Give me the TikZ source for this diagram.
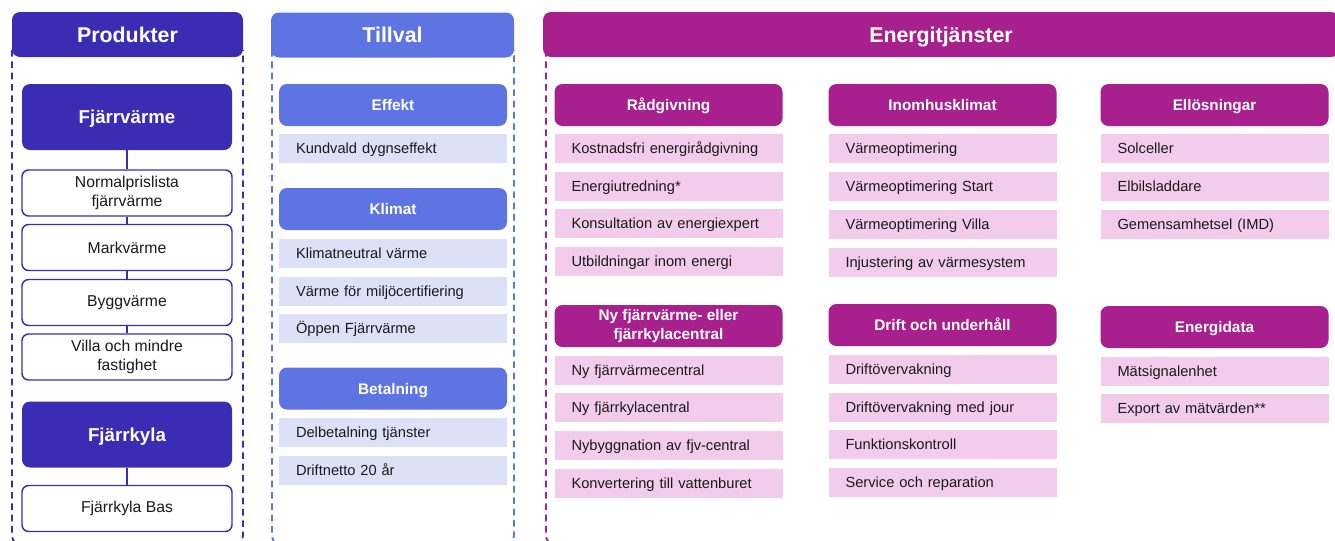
\documentclass[tikz,border=0pt]{standalone}
\usepackage{fontspec}
\setmainfont{Liberation Sans}
\usepackage{tikz}

\definecolor{prodblue}{HTML}{3A2DB4}
\definecolor{tillblue}{HTML}{5E74E2}
\definecolor{tilllight}{HTML}{DDE1F8}
\definecolor{energimag}{HTML}{A8208E}
\definecolor{energipink}{HTML}{F3CCEC}
\definecolor{itemtext}{HTML}{1A1A1A}

\tikzset{
  colhead/.style={rounded corners=6pt, text=white, font=\fontsize{16}{18}\selectfont\bfseries, minimum height=33.75pt, inner sep=0pt, text height=11.5pt, text depth=0pt},
  prodcat/.style={rounded corners=6pt, fill=prodblue, text=white, font=\fontsize{14}{16}\selectfont\bfseries, minimum width=157.5pt, minimum height=49.5pt, inner sep=0pt, text height=10pt, text depth=0pt},
  proditem/.style={rounded corners=5pt, draw=prodblue, line width=1.1pt, fill=white, text=itemtext, font=\fontsize{11.8}{14.2}\selectfont, align=center, minimum width=157.5pt, minimum height=34.5pt, inner sep=0pt},
  catbox/.style={rounded corners=6pt, text=white, font=\fontsize{11.5}{14.2}\selectfont\bfseries, align=center, minimum width=171pt, minimum height=31.5pt, inner sep=0pt},
  catone/.style={catbox, text height=8.3pt, text depth=0pt},
  item/.style={text=itemtext, font=\fontsize{11}{13}\selectfont, minimum width=171pt, minimum height=21.75pt, inner xsep=12.75pt, inner ysep=0pt, text width=145.5pt, text height=7.9pt, text depth=0pt, align=left},
  frame/.style={dash pattern=on 5pt off 3.5pt, line width=1.4pt, rounded corners=8pt},
  prodline/.style={draw=prodblue, line width=1.1pt}
}

\begin{document}
\begin{tikzpicture}[x=0.75pt,y=-0.75pt]
\useasboundingbox (0,0) rectangle (1335,540);

% Produkter
\draw[frame, prodblue] (12,50) -- (12,546) -- (243,546) -- (243,50);
\node[colhead, fill=prodblue, minimum width=173.25pt] (prod) at (127.5,34.5) {Produkter};

\node[prodcat] (fv) at (127,117) {Fjärrvärme};
\node[proditem] (np) at (127,193) {Normalprislista\\fjärrvärme};
\node[proditem] (mv) at (127,247.5) {Markvärme};
\node[proditem] (bv) at (127,302.5) {Byggvärme};
\node[proditem] (vf) at (127,357) {Villa och mindre\\fastighet};
\node[prodcat] (fk) at (127,434.5) {Fjärrkyla};
\node[proditem] (fb) at (127,508.5) {Fjärrkyla Bas};

\draw[prodline] (fv)--(np);
\draw[prodline] (np)--(mv);
\draw[prodline] (mv)--(bv);
\draw[prodline] (bv)--(vf);
\draw[prodline] (fk)--(fb);

% Tillval
\draw[frame, tillblue] (272,50) -- (272,546) -- (514,546) -- (514,50);
\node[colhead, fill=tillblue, minimum width=182.25pt] (till) at (392.5,35) {Tillval};

\node[catone, fill=tillblue] (eff) at (393,105) {Effekt};
\node[item, fill=tilllight] (eff1) at (393,148.5) {Kundvald dygnseffekt};

\node[catone, fill=tillblue] (klim) at (393,209) {Klimat};
\node[item, fill=tilllight] (klim1) at (393,253.5) {Klimatneutral värme};
\node[item, fill=tilllight] (klim2) at (393,291.5) {Värme för miljöcertifiering};
\node[item, fill=tilllight] (klim3) at (393,328.5) {Öppen Fjärrvärme};

\node[catone, fill=tillblue] (bet) at (393,388.5) {Betalning};
\node[item, fill=tilllight] (bet1) at (393,432.5) {Delbetalning tjänster};
\node[item, fill=tilllight] (bet2) at (393,470) {Driftnetto 20 år};

% Energitjänster
\draw[frame, energimag] (546,50) -- (546,546) -- (1345,546);
\node[colhead, fill=energimag, minimum width=597pt] (energi) at (941,34.5) {Energitjänster};

\node[catone, fill=energimag] (rad) at (668.5,105) {Rådgivning};
\node[item, fill=energipink] (rad1) at (668.5,148.5) {Kostnadsfri energirådgivning};
\node[item, fill=energipink] (rad2) at (668.5,186.5) {Energiutredning*};
\node[item, fill=energipink] (rad3) at (668.5,223.5) {Konsultation av energiexpert};
\node[item, fill=energipink] (rad4) at (668.5,261.5) {Utbildningar inom energi};

\node[catbox, fill=energimag] (nyc) at (668.5,326) {Ny fjärrvärme- eller\\fjärrkylacentral};
\node[item, fill=energipink] (nyc1) at (668.5,370.5) {Ny fjärrvärmecentral};
\node[item, fill=energipink] (nyc2) at (668.5,407.5) {Ny fjärrkylacentral};
\node[item, fill=energipink] (nyc3) at (668.5,445.5) {Nybyggnation av fjv-central};
\node[item, fill=energipink] (nyc4) at (668.5,483.5) {Konvertering till vattenburet};

\node[catone, fill=energimag] (inom) at (942.5,105) {Inomhusklimat};
\node[item, fill=energipink] (inom1) at (942.5,148.5) {Värmeoptimering};
\node[item, fill=energipink] (inom2) at (942.5,186.5) {Värmeoptimering Start};
\node[item, fill=energipink] (inom3) at (942.5,224) {Värmeoptimering Villa};
\node[item, fill=energipink] (inom4) at (942.5,262) {Injustering av värmesystem};

\node[catone, fill=energimag] (drift) at (942.5,325) {Drift och underhåll};
\node[item, fill=energipink] (drift1) at (942.5,369.5) {Driftövervakning};
\node[item, fill=energipink] (drift2) at (942.5,407) {Driftövervakning med jour};
\node[item, fill=energipink] (drift3) at (942.5,444.5) {Funktionskontroll};
\node[item, fill=energipink] (drift4) at (942.5,482.5) {Service och reparation};

\node[catone, fill=energimag] (ell) at (1214.5,105) {Ellösningar};
\node[item, fill=energipink] (ell1) at (1214.5,148.5) {Solceller};
\node[item, fill=energipink] (ell2) at (1214.5,186.5) {Elbilsladdare};
\node[item, fill=energipink] (ell3) at (1214.5,224) {Gemensamhetsel (IMD)};

\node[catone, fill=energimag] (edata) at (1214.5,327) {Energidata};
\node[item, fill=energipink] (edata1) at (1214.5,371) {Mätsignalenhet};
\node[item, fill=energipink] (edata2) at (1214.5,408.5) {Export av mätvärden**};

\end{tikzpicture}
\end{document}
